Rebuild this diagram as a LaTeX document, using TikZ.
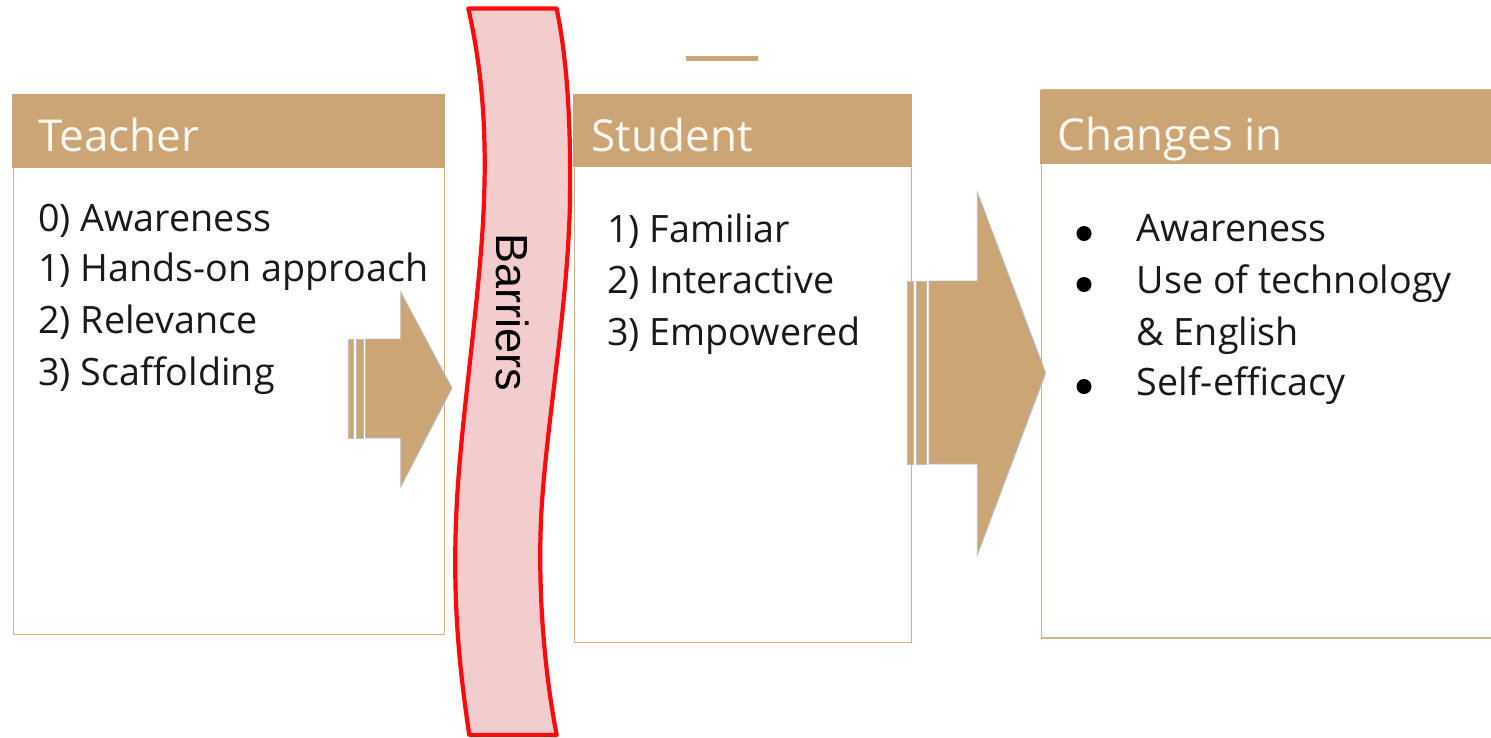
\documentclass[tikz,border=0pt]{standalone}
\usepackage{fontspec}
\setmainfont{Open Sans}
\newfontfamily\barfont{Liberation Sans}
\begin{document}
\begin{tikzpicture}[x=1pt,y=-1pt,
  every node/.style={inner sep=0pt,outer sep=0pt},
  headbox/.style={fill=tan,draw=tan,line width=1pt,anchor=north west},
  bodybox/.style={draw=tanline,line width=1.6pt,fill=white,anchor=north west},
  headtext/.style={anchor=base west,text=headwhite,font=\fontsize{44}{50}\selectfont},
  itemtext/.style={anchor=base west,text=black!90,font=\fontsize{37.7}{44}\selectfont},
  dot/.style={circle,fill=black,minimum size=15pt},
  stripe/.style={fill=tan,draw=stripegray,line width=1pt},
  bigarrow/.style={fill=tan,draw=stripegray,line width=0.8pt,line join=miter},
]
\definecolor{tan}{RGB}{203,165,118}
\definecolor{tanline}{RGB}{212,176,132}
\definecolor{headwhite}{RGB}{252,248,240}
\definecolor{stripegray}{RGB}{190,190,192}
\definecolor{barfill}{RGB}{243,204,205}
\definecolor{barred}{RGB}{250,12,12}

\useasboundingbox (0,0) rectangle (1491,737);
\fill[white] (0,0) rectangle (1491,737);

% --- Teacher column ---
\node[bodybox,minimum width=431pt,minimum height=540pt] (tbody) at (13.5,94.5) {};
\node[headbox,minimum width=432pt,minimum height=72.5pt] (thead) at (12.5,94.5) {};
\node[headtext] (tt) at (38.5,151.7) {Teacher};
\node[itemtext] (t0) at (38.3,231.7) {0) Awareness};
\node[itemtext] (t1) at (38.3,281.5) {1) Hands-on approach};
\node[itemtext] (t2) at (38.3,333.3) {2) Relevance};
\node[itemtext] (t3) at (38.3,385) {3) Scaffolding};

% --- Student column ---
\node[bodybox,minimum width=337pt,minimum height=548pt] (sbody) at (574.5,94.5) {};
\node[headbox,minimum width=338pt,minimum height=72pt] (shead) at (573.5,94.5) {};
\node[headtext] (st) at (591.7,151.7) {Student};
\node[itemtext] (s1) at (607.3,242.7) {1) Familiar};
\node[itemtext] (s2) at (607.3,293.3) {2) Interactive};
\node[itemtext] (s3) at (607.3,345) {3) Empowered};

% short rule above the student column
\draw[tan,line width=4.5pt] (686,58.3) -- (758,58.3);

% --- Changes column (runs past the right edge) ---
\node[bodybox,minimum width=470pt,minimum height=548pt] (cbody) at (1041.5,90) {};
\node[headbox,minimum width=470pt,minimum height=73pt] (chead) at (1040.7,90) {};
\node[headtext] (ct) at (1057.3,150) {Changes in};
\node[dot] (b1) at (1084,233.5) {};
\node[dot] (b2) at (1084,284.5) {};
\node[dot] (b3) at (1084,386.5) {};
\node[itemtext] (c1) at (1136.7,241.7) {Awareness};
\node[itemtext] (c2) at (1136.7,293.3) {Use of technology};
\node[itemtext] (c3) at (1136.7,345) {\&\ English};
\node[itemtext] (c4) at (1136.7,395.5) {Self-efficacy};

% --- striped arrow: teacher -> barrier ---
\fill[stripe] (348.5,339) rectangle (353.5,438);
\fill[stripe] (356.5,339) rectangle (363,438);
\draw[bigarrow] (365.5,339) -- (400.7,339) -- (400.7,292) -- (452,388)
  -- (400.7,487) -- (400.7,438) -- (365.5,438) -- cycle;

% --- striped arrow: student -> changes ---
\fill[stripe] (907,281) rectangle (913.3,464);
\fill[stripe] (916.8,281) rectangle (926.5,464);
\draw[bigarrow] (929,281) -- (977.3,281) -- (977.3,192) -- (1045.7,373)
  -- (977.3,555) -- (977.3,464) -- (929,464) -- cycle;

% --- wavy barrier band ---
\draw[barred,fill=barfill,line width=4.2pt,line join=round]
  (468.3,8.5)
  .. controls (480,60) and (487,120) .. (484,200)
  .. controls (481,290) and (462,410) .. (457,500)
  .. controls (452,590) and (458,660) .. (469.3,735)
  -- (556.7,735)
  .. controls (544,670) and (538,590) .. (541,520)
  .. controls (545,430) and (568,310) .. (570,200)
  .. controls (571,110) and (566,55) .. (556.7,8.5)
  -- cycle;
\node[rotate=-90,font=\barfont\fontsize{45}{50}\selectfont] (barrier) at (513,312) {Barriers};
\end{tikzpicture}
\end{document}
